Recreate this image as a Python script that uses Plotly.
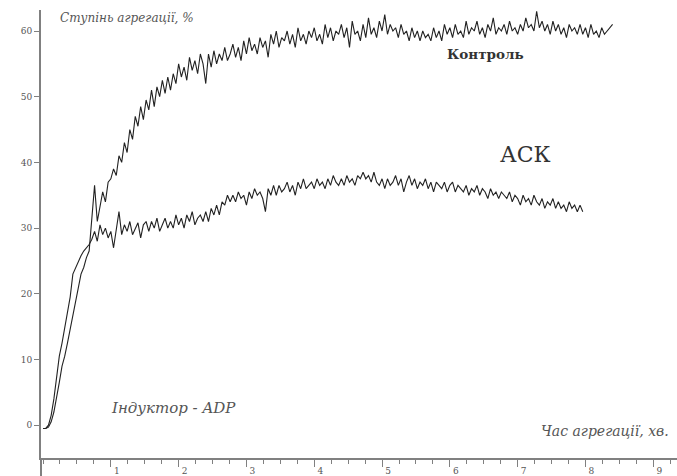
import numpy as np
import plotly.graph_objects as go

# time grid step (min)
DT = 0.04

control = [
    -0.5, -0.5, -0.3, 0.5, 2.0, 4.0, 6.5, 9.0, 10.5, 12.5,
    14.5, 16.5, 18.5, 21.0, 23.0, 24.0, 25.5, 26.5, 32.0, 36.5,
    31.0, 33.5, 35.5, 34.0, 37.0, 37.5, 39.0, 38.0, 41.0, 40.0,
    43.0, 41.5, 45.0, 43.5, 47.0, 45.5, 48.5, 46.5, 49.5, 48.0,
    51.0, 48.5, 51.5, 50.0, 52.5, 50.5, 53.0, 51.0, 53.5, 52.0,
    55.0, 53.0, 54.5, 52.5, 56.0, 54.0, 55.5, 53.5, 56.5, 55.0,
    52.0, 56.5, 54.5, 57.0, 55.0, 56.5, 55.5, 57.5, 55.5, 56.5,
    58.0, 56.0, 57.5, 55.5, 58.5, 56.5, 59.0, 57.0, 58.0, 56.5,
    59.0, 57.5, 58.5, 56.0, 59.5, 58.0, 60.0, 57.5, 59.0, 58.5,
    60.0, 58.0, 59.5, 57.5, 60.5, 58.5, 59.5, 58.0, 60.0, 59.0,
    60.5, 58.5, 59.5, 58.0, 61.0, 59.0, 60.5, 58.5, 60.0, 59.5,
    61.0, 59.0, 60.5, 57.5, 61.5, 59.5, 60.0, 58.5, 61.0, 59.0,
    62.0, 59.5, 60.5, 59.0, 61.5, 60.0, 62.5, 59.5, 61.0, 60.0,
    60.5, 59.0, 61.0, 59.5, 60.0, 58.5, 60.5, 59.0, 60.0, 58.5,
    60.0, 59.0, 59.5, 58.5, 60.5, 59.0, 60.0, 58.5, 61.0, 59.5,
    60.5, 59.0, 61.0, 59.5, 60.0, 59.0, 61.5, 59.5, 60.5, 60.0,
    61.5, 59.5, 60.5, 59.0, 61.0, 60.0, 62.0, 59.5, 60.5, 60.0,
    61.0, 59.5, 61.5, 60.0, 60.5, 59.5, 61.0, 60.0, 62.0, 60.5,
    61.0, 60.0, 63.0, 60.5, 61.5, 60.0, 61.0, 59.5, 61.5, 60.0,
    61.0, 59.5, 60.5, 59.0, 61.0, 60.0, 60.5, 59.5, 61.0, 59.5,
    60.5, 59.0, 61.0, 59.5, 60.0, 59.0, 60.5, 59.5, 60.0, 60.5,
    61.0,
]

ask = [
    -0.5, -0.5, 0.0, 1.5, 4.0, 7.5, 10.5, 12.5, 15.0, 17.0,
    19.5, 23.0, 24.0, 25.0, 25.8, 26.5, 27.0, 27.5, 28.3, 29.5,
    28.0, 30.5, 29.0, 30.0, 28.5, 29.5, 27.0, 30.0, 32.5, 29.0,
    30.5, 29.5, 31.0, 29.0, 30.0, 30.8, 28.5, 30.5, 31.0, 29.5,
    31.0, 30.0, 31.5, 29.5, 30.5, 31.5, 30.0, 31.0, 30.0, 32.0,
    30.5, 31.5, 30.0, 32.0, 31.0, 32.5, 30.5, 31.5, 32.0, 31.0,
    32.5, 31.0, 33.0, 32.0, 33.5, 32.0, 34.0, 33.5, 35.0, 34.0,
    35.0, 34.0, 35.5, 34.5, 35.0, 33.5, 35.5, 34.5, 36.0, 35.0,
    35.5, 34.5, 32.5, 36.0, 35.0, 36.5, 35.0, 36.5, 35.5, 36.0,
    37.0, 35.5, 36.5, 35.0, 37.0, 36.0, 37.5, 36.0, 36.5, 37.0,
    36.0, 37.5, 36.5, 37.0, 36.0, 37.5, 36.5, 38.0, 37.0, 36.5,
    37.5, 36.5, 38.0, 37.0, 37.5, 36.5, 38.0, 37.5, 38.5, 37.5,
    38.0, 37.0, 38.5, 37.0, 36.5, 37.5, 36.0, 37.5, 36.5, 37.0,
    38.0, 36.5, 37.5, 35.5, 37.0, 38.0, 36.5, 37.5, 36.0, 37.0,
    36.5, 37.5, 36.0, 37.0, 35.5, 37.0, 36.5, 36.0, 37.0, 35.5,
    36.5, 37.0, 35.5, 36.5, 36.0, 35.5, 36.5, 35.0, 36.0, 35.5,
    36.5, 35.0, 36.0, 35.5, 34.5, 36.0, 35.0, 35.5, 34.5, 35.5,
    35.0, 34.5, 35.5, 34.0, 35.0, 34.5, 33.5, 35.0, 34.0, 34.5,
    33.5, 35.0, 34.0, 33.5, 34.5, 33.0, 34.0, 33.5, 34.5, 33.0,
    34.0, 33.0, 33.5, 32.5, 34.0, 33.0, 33.5, 32.5, 33.5, 32.5,
]

y_ticks = [0, 10, 20, 30, 40, 50, 60]
x_ticks = [1, 2, 3, 4, 5, 6, 7, 8, 9]

t_control = np.round(np.arange(len(control)) * DT, 3)
t_ask = np.round(np.arange(len(ask)) * DT, 3)

LINE = "#222222"
AXIS = "#808080"
TXT = "#555555"
SERIF = "DejaVu Serif"

fig = go.Figure()
fig.add_trace(go.Scatter(x=t_control, y=control, mode="lines",
                         line=dict(color=LINE, width=1.1), name="Контроль"))
fig.add_trace(go.Scatter(x=t_ask, y=ask, mode="lines",
                         line=dict(color=LINE, width=1.1), name="АСК"))

fig.update_layout(
    width=677, height=476,
    margin=dict(l=41, r=0, t=10, b=16),
    paper_bgcolor="white", plot_bgcolor="white",
    showlegend=False,
    font=dict(family=SERIF, color=TXT, size=10),
    xaxis=dict(range=[-0.03, 9.35], showgrid=False, zeroline=False,
               showline=True, linecolor=AXIS, linewidth=2,
               tickvals=x_ticks, ticktext=[str(v) for v in x_ticks],
               ticks="outside", ticklen=7, tickcolor=AXIS, tickwidth=1,
               ticklabelshift=6, ticklabelstandoff=-4,
               tickfont=dict(family=SERIF, size=9, color=TXT),
               minor=dict(tickmode="linear", tick0=0, dtick=0.25,
                          ticks="outside", ticklen=4, tickcolor=AXIS,
                          showgrid=False)),
    yaxis=dict(range=[-5, 63.2], showgrid=False, zeroline=False,
               showline=True, linecolor=AXIS, linewidth=2,
               tickvals=y_ticks, ticks="outside", ticklen=5,
               tickcolor=AXIS, tickwidth=1,
               tickfont=dict(family=SERIF, size=9, color=TXT)),
)

# y-axis line continuing below the x axis
fig.add_shape(type="line", xref="paper", yref="paper", x0=0, x1=0,
              y0=0, y1=-0.04, line=dict(color=AXIS, width=2))

ann = dict(showarrow=False, xref="x", yref="y")
fig.add_annotation(x=1.24, y=62.0, text="<i>Ступінь агрегації, %</i>",
                   font=dict(family=SERIF, size=12, color=TXT), **ann)
fig.add_annotation(x=6.53, y=56.5, text="<b>Контроль</b>",
                   font=dict(family=SERIF, size=13.5, color="#333333"), **ann)
fig.add_annotation(x=7.12, y=41.2, text="АСК",
                   font=dict(family=SERIF, size=22, color="#333333"), **ann)
fig.add_annotation(x=1.92, y=2.6, text="<i>Індуктор - ADP</i>",
                   font=dict(family=SERIF, size=15, color=TXT), **ann)
fig.add_annotation(x=8.29, y=-0.9, text="<i>Час агрегації, хв.</i>",
                   font=dict(family=SERIF, size=14, color=TXT), **ann)

fig.write_html("out.html")
